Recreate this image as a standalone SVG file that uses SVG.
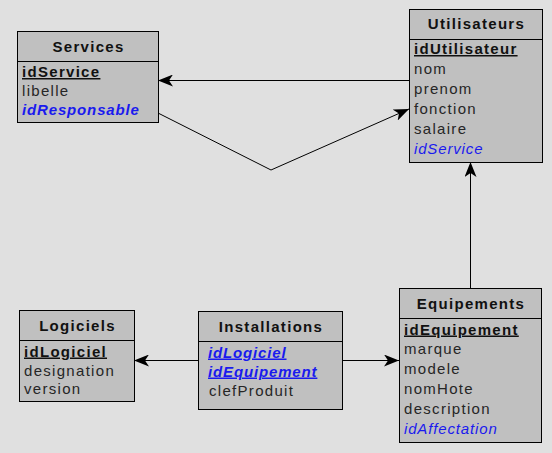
<svg xmlns="http://www.w3.org/2000/svg" width="552" height="453" viewBox="0 0 552 453">
  <defs>
    <marker id="arr" markerUnits="userSpaceOnUse" markerWidth="16" markerHeight="12" refX="15" refY="6" orient="auto">
      <path d="M0,0 L15,6 L0,12 L4,6 Z" fill="#000"/>
    </marker>
  </defs>
  <style>
    .box { fill: #c0c0c0; stroke: #000; stroke-width: 1; }
    .sep { stroke: #000; stroke-width: 1; }
    .hdr { font-family: "Liberation Sans", Arial, sans-serif; font-size: 15px; font-weight: bold; fill: #111; text-anchor: middle; letter-spacing: 1.3px; }
    .fld { font-family: "Liberation Sans", Arial, sans-serif; font-size: 15px; fill: #262626; letter-spacing: 1.3px; }
    .pk { font-weight: bold; fill: #111; text-decoration: underline; }
    .fk { font-style: italic; fill: #1a1aee; letter-spacing: 0.85px; }
    .fkb { font-style: italic; font-weight: bold; fill: #1a1aee; letter-spacing: 0.85px; }
    .fkpk { font-style: italic; font-weight: bold; fill: #1a1aee; text-decoration: underline; letter-spacing: 0.85px; }
    .conn { fill: none; stroke: #000; stroke-width: 1; }
  </style>
  <rect x="0" y="0" width="552" height="453" fill="#e0e0e0"/>

  <g id="connectors">
    <path class="conn" d="M409,80.5 L158,80.5" marker-end="url(#arr)"/>
    <path class="conn" d="M158,113 L271,170 L409,109" marker-end="url(#arr)"/>
    <path class="conn" d="M470.5,288 L470.5,162" marker-end="url(#arr)"/>
    <path class="conn" d="M198,360.5 L134,360.5" marker-end="url(#arr)"/>
    <path class="conn" d="M342,360.5 L399,360.5" marker-end="url(#arr)"/>
  </g>

  <g id="services">
    <rect class="box" x="17.5" y="31.5" width="141" height="91"/>
    <line class="sep" x1="17.5" y1="61.5" x2="158.5" y2="61.5"/>
    <text class="hdr" x="88.5" y="52">Services</text>
    <text class="fld pk" x="22" y="77">idService</text>
    <text class="fld" x="22" y="96">libelle</text>
    <text class="fld fkb" x="22" y="115">idResponsable</text>
  </g>

  <g id="utilisateurs">
    <rect class="box" x="409.5" y="9.5" width="133" height="153"/>
    <line class="sep" x1="409.5" y1="39.5" x2="542.5" y2="39.5"/>
    <text class="hdr" x="476.5" y="29">Utilisateurs</text>
    <text class="fld pk" x="414" y="54">idUtilisateur</text>
    <text class="fld" x="414" y="74">nom</text>
    <text class="fld" x="414" y="93.5">prenom</text>
    <text class="fld" x="414" y="113.5">fonction</text>
    <text class="fld" x="414" y="133.5">salaire</text>
    <text class="fld fk" x="414" y="153.5">idService</text>
  </g>

  <g id="logiciels">
    <rect class="box" x="19.5" y="310.5" width="115" height="91"/>
    <line class="sep" x1="19.5" y1="340.5" x2="134.5" y2="340.5"/>
    <text class="hdr" x="77.5" y="331">Logiciels</text>
    <text class="fld pk" x="24" y="356.5">idLogiciel</text>
    <text class="fld" x="24" y="375.5">designation</text>
    <text class="fld" x="24" y="394">version</text>
  </g>

  <g id="installations">
    <rect class="box" x="198.5" y="311.5" width="144" height="98"/>
    <line class="sep" x1="198.5" y1="341.5" x2="342.5" y2="341.5"/>
    <text class="hdr" x="271" y="332">Installations</text>
    <text class="fld fkpk" x="208" y="357.5">idLogiciel</text>
    <text class="fld fkpk" x="208" y="376.5">idEquipement</text>
    <text class="fld" x="209" y="395.5">clefProduit</text>
  </g>

  <g id="equipements">
    <rect class="box" x="399.5" y="288.5" width="142" height="154"/>
    <line class="sep" x1="399.5" y1="318.5" x2="541.5" y2="318.5"/>
    <text class="hdr" x="471" y="308.5">Equipements</text>
    <text class="fld pk" x="404" y="334.5">idEquipement</text>
    <text class="fld" x="404" y="354">marque</text>
    <text class="fld" x="404" y="374">modele</text>
    <text class="fld" x="404" y="393.5">nomHote</text>
    <text class="fld" x="404" y="413.5">description</text>
    <text class="fld fk" x="404" y="433.5">idAffectation</text>
  </g>
</svg>
